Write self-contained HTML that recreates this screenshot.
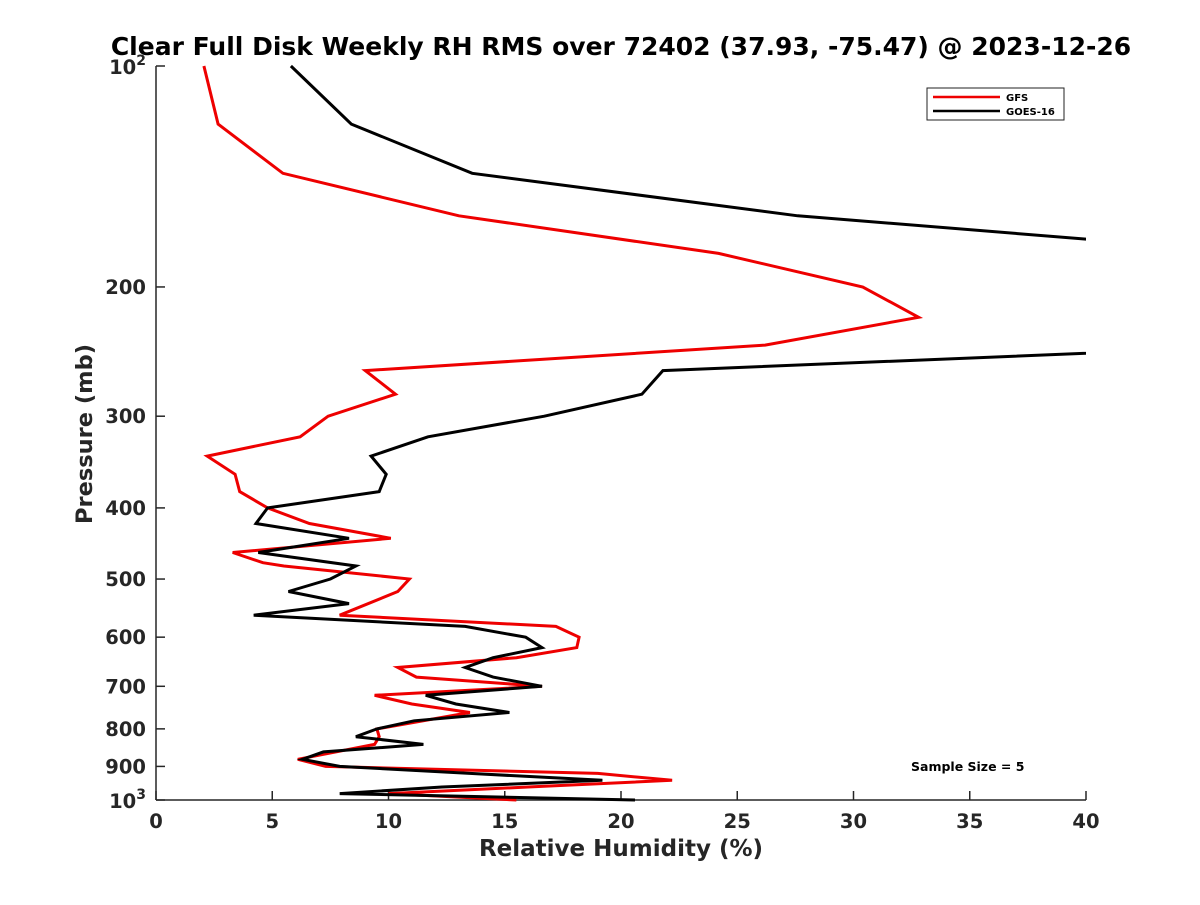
<!DOCTYPE html>
<html><head><meta charset="utf-8"><style>
body{margin:0;background:#fff;}
svg text{font-family:"DejaVu Sans","Liberation Sans",sans-serif;font-weight:bold;fill:#262626;}
</style></head><body>
<svg id="chart" width="1200" height="900">
<defs><clipPath id="plotclip"><rect x="156" y="60" width="930" height="745"/></clipPath></defs>
<text x="621" y="55" font-size="25" text-anchor="middle" style="fill:#000">Clear Full Disk Weekly RH RMS over 72402 (37.93, -75.47) @ 2023-12-26</text>
<g id="axes"></g>
<g id="series" clip-path="url(#plotclip)"></g>
<text x="621" y="856" font-size="23" text-anchor="middle">Relative Humidity (%)</text>
<text transform="translate(92,434) rotate(-90)" font-size="22.5" text-anchor="middle">Pressure (mb)</text>
<text x="911" y="771" font-size="12.5" style="fill:#000">Sample Size = 5</text>
<g>
<rect x="927" y="88" width="137" height="32" fill="#fff" stroke="#222" stroke-width="1"/>
<line x1="933" y1="97" x2="1000" y2="97" stroke="#e00" stroke-width="2.5"/>
<text x="1006" y="101" font-size="10" style="fill:#000">GFS</text>
<line x1="933" y1="111" x2="1000" y2="111" stroke="#000" stroke-width="2.5"/>
<text x="1006" y="115" font-size="10" style="fill:#000">GOES-16</text>
</g>
</svg>
<script>
const xTicks=[0,5,10,15,20,25,30,35,40];
const yTicks=[100,200,300,400,500,600,700,800,900,1000];
const yTickLabels=["10|2","200","300","400","500","600","700","800","900","10|3"];
const gfsPressure=[100,120,140,160,180,200,220,240,260,280,300,320,340,360,380,400,420,440,460,475,480,500,520,560,580,600,620,640,660,680,700,720,740,760,800,820,840,880,900,920,940,960,980,1000];
const gfsRH=[2.06,2.67,5.46,13.03,24.2,30.4,32.8,26.2,9.0,10.3,7.4,6.2,2.2,3.4,3.6,4.8,6.6,10.1,3.3,4.6,5.5,10.9,10.4,7.9,17.2,18.2,18.1,15.5,10.4,11.2,16.6,9.4,11.0,13.5,9.5,9.6,9.4,6.1,7.3,19.0,22.2,16.0,10.0,15.5];
const goesPressure=[100,120,140,160,180,240,260,280,300,320,340,360,380,400,420,440,460,480,500,520,540,560,580,600,620,640,660,680,700,720,740,760,780,800,820,840,860,880,900,920,940,960,980,1000];
const goesRH=[5.8,8.4,13.6,27.6,47.6,48.6,21.8,20.9,16.7,11.7,9.25,9.9,9.6,4.8,4.3,8.3,4.4,8.6,7.5,5.7,8.3,4.2,13.3,15.9,16.6,14.5,13.3,14.5,16.6,11.6,12.9,15.2,11.1,9.5,8.6,11.5,7.2,6.3,7.9,13.5,19.2,12.3,7.9,20.6];

const X0=156,X1=1086,Y0=66,Y1=800;
const xScale=v=>X0+(v-0)/(40-0)*(X1-X0);
const yScale=p=>Y0+(Math.log10(p)-2)*(Y1-Y0);
const NS="http://www.w3.org/2000/svg";
const axes=document.getElementById('axes');
const series=document.getElementById('series');
function mk(tag,attrs,parent){const e=document.createElementNS(NS,tag);for(const k in attrs)e.setAttribute(k,attrs[k]);parent.appendChild(e);return e;}

let a=mk('line',{x1:X0,y1:Y0,x2:X0,y2:Y1,stroke:'#262626','stroke-width':1.5},axes);


a=mk('line',{x1:X0,y1:Y1,x2:X1,y2:Y1,stroke:'#262626','stroke-width':1.5},axes);



xTicks.forEach(v=>{
  const x=xScale(v);
  const t=mk('line',{x1:x,y1:Y1,x2:x,y2:Y1-9,stroke:'#262626','stroke-width':1.5},axes);
  
  
  const l=mk('text',{x:x,y:Y1+28,'font-size':19.5,'text-anchor':'middle'},axes);
  l.textContent=String(v);
  
  
});
yTicks.forEach((p,i)=>{
  const y=yScale(p);
  const t=mk('line',{x1:X0,y1:y,x2:X0+9,y2:y,stroke:'#262626','stroke-width':1.5},axes);
  
  
  const lab=yTickLabels[i];
  if(lab.indexOf('|')>=0){
    const parts=lab.split('|');
    const l=mk('text',{x:X0-10,y:y+8,'font-size':19.5,'text-anchor':'end'},axes);
    const t1=mk('tspan',{},l);t1.textContent=parts[0];
    const t2=mk('tspan',{'font-size':14,dy:-9},l);t2.textContent=parts[1];
    
    
  } else {
    const l=mk('text',{x:X0-10,y:y+7,'font-size':19.5,'text-anchor':'end'},axes);
    l.textContent=lab;
    
    
  }
});

function drawSeries(ps,vs,color,name){
  const pts=ps.map((p,i)=>xScale(vs[i]).toFixed(1)+','+yScale(p).toFixed(1)).join(' ');
  const pl=mk('polyline',{points:pts,fill:'none',stroke:color,'stroke-width':3,'stroke-linejoin':'miter'},series);
  
  
}
drawSeries(gfsPressure,gfsRH,'#e00','gfs-line');
drawSeries(goesPressure,goesRH,'#000','goes16-line');
</script>
</body></html>
